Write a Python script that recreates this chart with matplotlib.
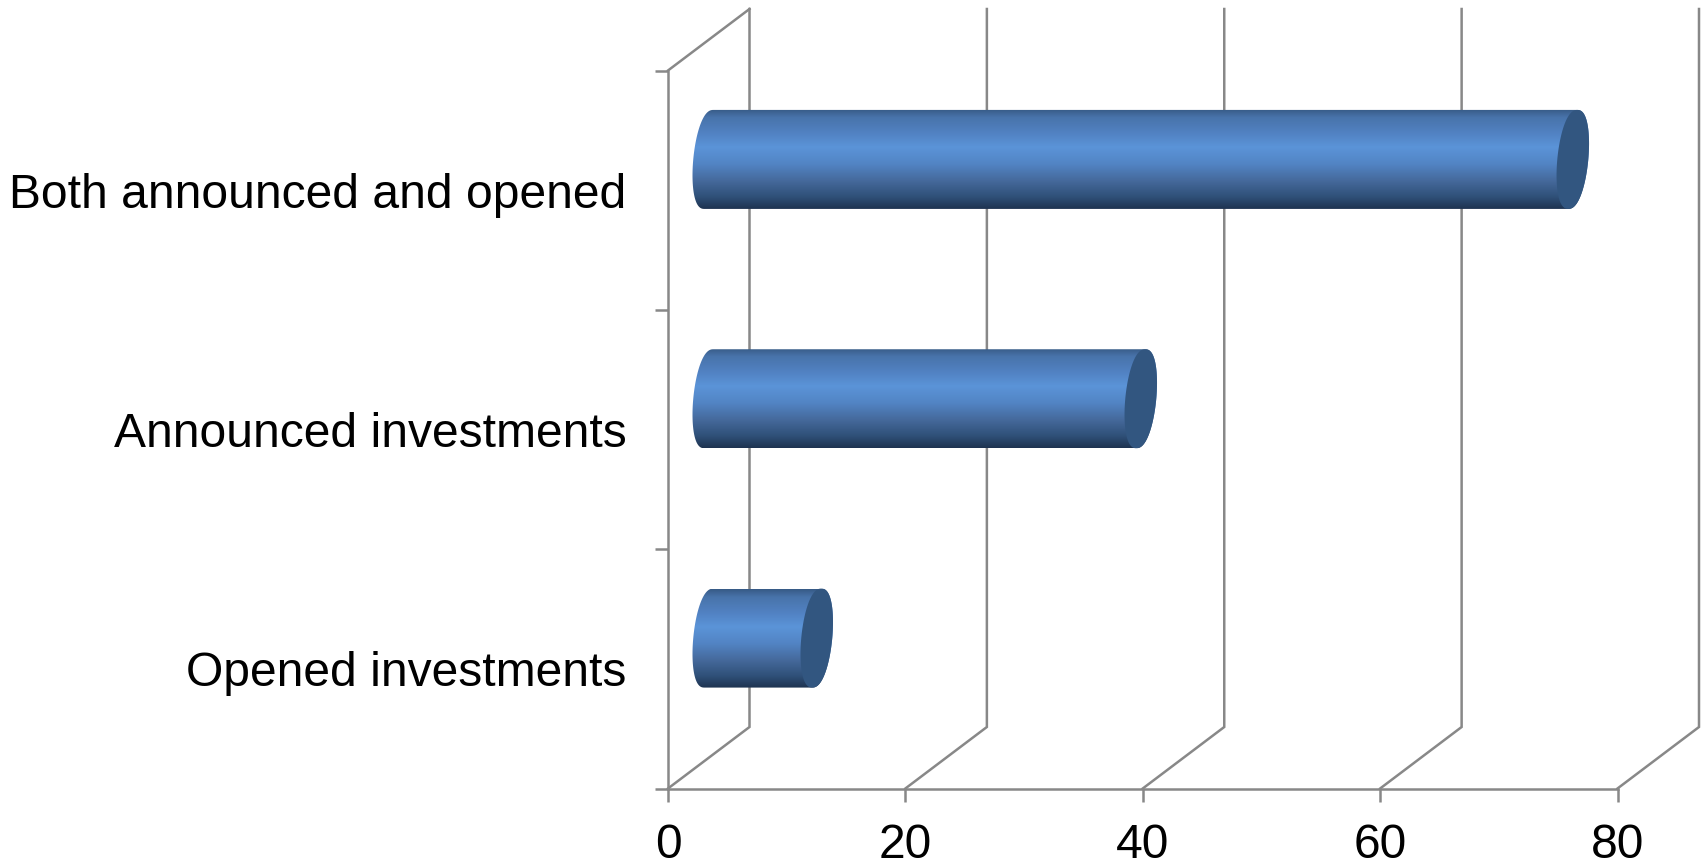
import numpy as np
import matplotlib
matplotlib.use('Agg')
import matplotlib.pyplot as plt
from matplotlib.colors import LinearSegmentedColormap
from matplotlib.path import Path
from matplotlib.patches import PathPatch

plt.rcParams['font.family'] = ['Liberation Sans', 'DejaVu Sans']

# data
categories = ['Opened investments', 'Announced investments', 'Both announced and opened']
values = [9.1, 36.4, 72.8]
x_ticks = [0, 20, 40, 60, 80]

W, H = 1703, 865
GRAY = '#888888'
LW = 1.8
FS = 34.6

fig = plt.figure(figsize=(W / 100, H / 100), dpi=100)
ax = fig.add_axes([668 / W, (H - 788.5) / H, 949.5 / W, 718 / H])
ax.set_xlim(0, 80)
ax.set_ylim(0, 3)

# pixels to data units
sx = 80 / 949.5
sy = 3 / 718
depth_x = 81.5 * sx
depth_y = 61.5 * sy

# 3d walls
for t in x_ticks:
    ax.plot([t, t + depth_x, t + depth_x], [0, depth_y, 3 + depth_y],
            color=GRAY, lw=LW, clip_on=False, zorder=1, solid_joinstyle='miter')
ax.plot([0, depth_x], [3, 3 + depth_y], color=GRAY, lw=LW, clip_on=False, zorder=1)

# cylinders
grad = LinearSegmentedColormap.from_list('cyl', [
    (0.0, '#375a86'), (0.08, '#4873aa'), (0.25, '#5283c4'), (0.38, '#5b94d8'),
    (0.55, '#5284c4'), (0.72, '#45699b'), (0.88, '#2f5078'), (1.0, '#1e3350')])
rows = np.linspace(0, 1, 256).reshape(-1, 1)

a = 15.5 * sx    # ellipse half width
b = 49.5 * sy    # ellipse half height
s = 4.5 * sx     # tilt of the ellipse


def rim(cx, cy, th):
    # slightly fuller than a true ellipse, like the office 3d cylinder
    c = np.sign(np.cos(th)) * np.abs(np.cos(th)) ** 0.85
    return np.column_stack([cx + a * c + s * np.sin(th), cy + b * np.sin(th)])


for i, v in enumerate(values):
    x0 = depth_x / 2
    x1 = x0 + v
    yc = i + 0.5 + depth_y / 2

    th = np.linspace(np.pi / 2, 3 * np.pi / 2, 60)
    left = rim(x0, yc, th)
    right = rim(x1, yc, th + np.pi)
    body = Path(np.vstack([left, right, left[:1]]))

    im = ax.imshow(rows, cmap=grad, aspect='auto', origin='upper', zorder=3,
                   extent=[x0 - 2 * a, x1 + 2 * a, yc - b, yc + b], clip_on=True)
    patch = PathPatch(body, fc='none', ec='none', transform=ax.transData)
    ax.add_patch(patch)
    patch.set_clip_on(False)
    im.set_clip_path(patch)

    cap = rim(x1, yc, np.linspace(0, 2 * np.pi, 120))
    ax.fill(cap[:, 0], cap[:, 1], color='#325680', lw=0, zorder=4, clip_on=False)

ax.set_xlim(0, 80)
ax.set_ylim(0, 3)

# axes
for side in ['top', 'right']:
    ax.spines[side].set_visible(False)
for side in ['left', 'bottom']:
    ax.spines[side].set_color(GRAY)
    ax.spines[side].set_linewidth(LW)
    ax.spines[side].set_zorder(2)
ax.patch.set_alpha(0)

ax.set_xticks(x_ticks)
ax.tick_params(axis='x', length=9.7, width=LW, color=GRAY, labelsize=FS, pad=15)
ax.set_yticks([0, 1, 2, 3])
ax.set_yticklabels([])
ax.tick_params(axis='y', which='major', length=9.7, width=LW, color=GRAY)
ax.set_yticks([0.5, 1.5, 2.5], minor=True)
ax.set_yticklabels(categories, minor=True, fontsize=FS)
ax.tick_params(axis='y', which='minor', length=0, pad=30)

fig.savefig('out.png', dpi=100)
